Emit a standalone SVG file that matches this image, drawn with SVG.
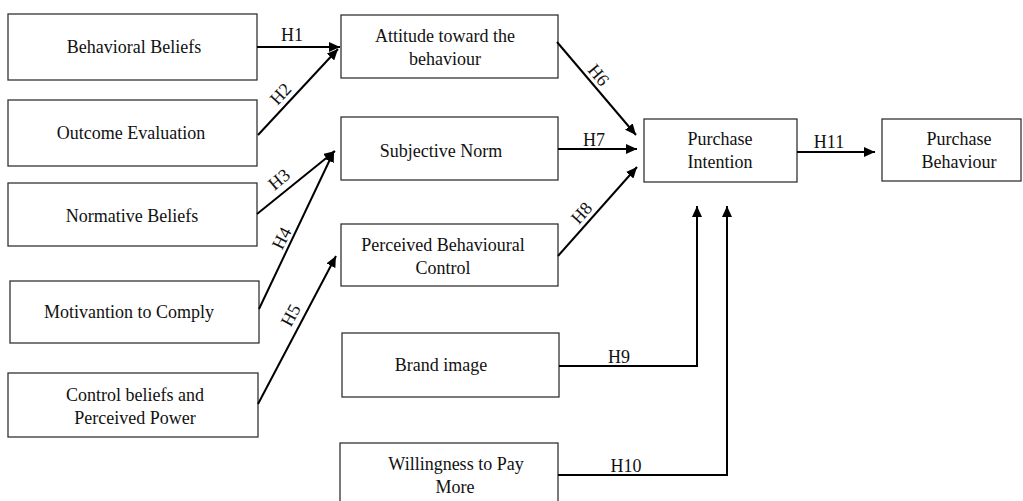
<svg xmlns="http://www.w3.org/2000/svg" width="1023" height="501" viewBox="0 0 1023 501">
<style>
.box{fill:#fff;stroke:#333;stroke-width:1.3}
.t{font-family:"Liberation Serif","Times New Roman",serif;font-size:18px;fill:#111;text-anchor:middle}
.c{fill:none;stroke:#000;stroke-width:2}
.lbl{font-family:"Liberation Serif","Times New Roman",serif;font-size:18px;fill:#111;text-anchor:middle}
</style>
<defs>
<marker id="ah" markerUnits="userSpaceOnUse" markerWidth="12" markerHeight="10" refX="11" refY="5" orient="auto">
<path d="M0,0 L11,5 L0,10 z" fill="#000"/>
</marker>
</defs>
<rect width="1023" height="501" fill="#fff"/>
<g id="n-behavioral-beliefs"><rect class="box" x="8" y="14" width="249" height="66"/><text class="t" x="134" y="53">Behavioral Beliefs</text></g>
<g id="n-outcome-evaluation"><rect class="box" x="8" y="100" width="249" height="66"/><text class="t" x="131" y="139">Outcome Evaluation</text></g>
<g id="n-normative-beliefs"><rect class="box" x="8" y="183" width="249" height="63"/><text class="t" x="132" y="222">Normative Beliefs</text></g>
<g id="n-motivantion"><rect class="box" x="10" y="281" width="249" height="62"/><text class="t" x="129" y="318">Motivantion to Comply</text></g>
<g id="n-control-beliefs"><rect class="box" x="8" y="373" width="250" height="64"/><text class="t" x="135" y="401">Control beliefs and</text><text class="t" x="135" y="424">Perceived Power</text></g>
<g id="n-attitude"><rect class="box" x="341" y="15" width="217" height="63"/><text class="t" x="445" y="42">Attitude toward the</text><text class="t" x="445" y="65">behaviour</text></g>
<g id="n-subjective-norm"><rect class="box" x="341" y="117" width="217" height="63"/><text class="t" x="441" y="157">Subjective Norm</text></g>
<g id="n-pbc"><rect class="box" x="341" y="224" width="217" height="62"/><text class="t" x="443" y="251">Perceived Behavioural</text><text class="t" x="443" y="274">Control</text></g>
<g id="n-brand-image"><rect class="box" x="342" y="333" width="217" height="64"/><text class="t" x="441" y="371">Brand image</text></g>
<g id="n-willingness"><rect class="box" x="340" y="443" width="218" height="70"/><text class="t" x="456" y="470">Willingness to Pay</text><text class="t" x="455" y="493">More</text></g>
<g id="n-purchase-intention"><rect class="box" x="644" y="119" width="153" height="63"/><text class="t" x="720" y="145">Purchase</text><text class="t" x="720" y="168">Intention</text></g>
<g id="n-purchase-behaviour"><rect class="box" x="882" y="119" width="139" height="62"/><text class="t" x="959" y="145">Purchase</text><text class="t" x="959" y="168">Behaviour</text></g>
<g id="connectors">
<line class="c" x1="257" y1="47" x2="340" y2="47" marker-end="url(#ah)"/>
<line class="c" x1="258" y1="135" x2="338" y2="49" marker-end="url(#ah)"/>
<line class="c" x1="257" y1="214" x2="335" y2="151" marker-end="url(#ah)"/>
<line class="c" x1="259" y1="309" x2="334" y2="151" marker-end="url(#ah)"/>
<line class="c" x1="258" y1="404" x2="336" y2="256" marker-end="url(#ah)"/>
<line class="c" x1="557" y1="42" x2="636" y2="135" marker-end="url(#ah)"/>
<line class="c" x1="558" y1="149" x2="637" y2="149" marker-end="url(#ah)"/>
<line class="c" x1="558" y1="256" x2="637" y2="167" marker-end="url(#ah)"/>
<polyline class="c" points="559,366 697,366 697,206" marker-end="url(#ah)"/>
<polyline class="c" points="558,475 727,475 727,206" marker-end="url(#ah)"/>
<line class="c" x1="797" y1="152" x2="875" y2="152" marker-end="url(#ah)"/>
</g>
<g id="labels">
<text class="lbl" x="292" y="41">H1</text>
<text class="lbl" transform="translate(285,98) rotate(-47)">H2</text>
<text class="lbl" transform="translate(283,184) rotate(-40)">H3</text>
<text class="lbl" transform="translate(287,241) rotate(-63)">H4</text>
<text class="lbl" transform="translate(296,318) rotate(-62)">H5</text>
<text class="lbl" transform="translate(594,79) rotate(50)">H6</text>
<text class="lbl" x="594" y="146">H7</text>
<text class="lbl" transform="translate(586,217) rotate(-48)">H8</text>
<text class="lbl" x="619" y="363">H9</text>
<text class="lbl" x="626" y="472">H10</text>
<text class="lbl" x="829" y="148">H11</text>
</g>
</svg>
